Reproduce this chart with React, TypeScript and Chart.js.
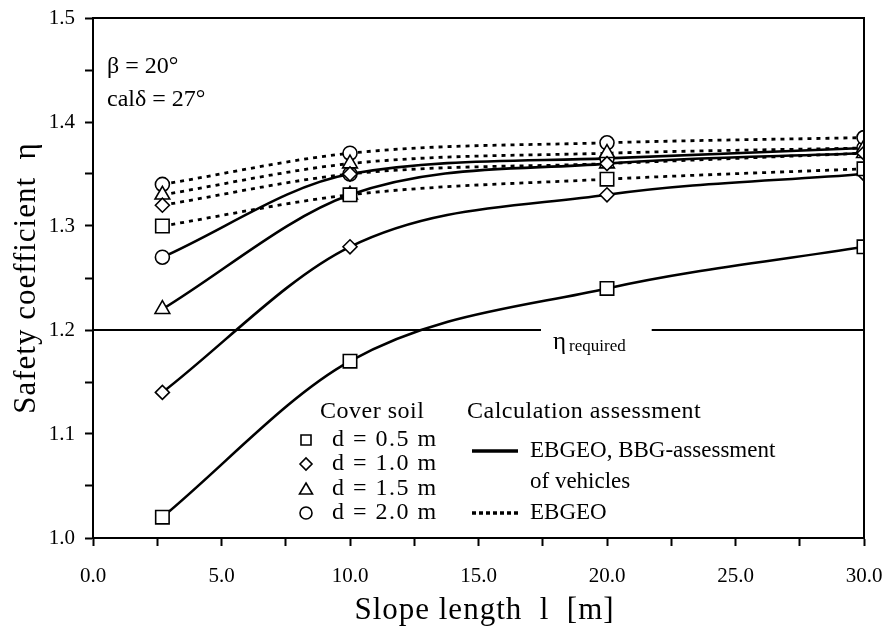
import React, { useEffect, useRef } from "react";
import { Chart, registerables } from "chart.js";

Chart.register(...registerables);

// ---- data ----
const SLOPE_LENGTHS = [2.7, 10, 20, 30];

// EBGEO, BBG-assessment of vehicles (solid)
const BBG_D05 = [1.02, 1.17, 1.24, 1.28];
const BBG_D10 = [1.14, 1.28, 1.33, 1.35];
const BBG_D15 = [1.22, 1.33, 1.36, 1.37];
const BBG_D20 = [1.27, 1.35, 1.365, 1.375];

// EBGEO (dotted)
const EBGEO_D05 = [1.3, 1.33, 1.345, 1.355];
const EBGEO_D10 = [1.32, 1.35, 1.36, 1.37];
const EBGEO_D15 = [1.33, 1.36, 1.37, 1.375];
const EBGEO_D20 = [1.34, 1.37, 1.38, 1.385];

const COVER_LABELS = ["d = 0.5 m", "d = 1.0 m", "d = 1.5 m", "d = 2.0 m"];
const ETA_REQUIRED = 1.2;

const FONT = '"Liberation Serif", "Times New Roman", serif';

const pts = (ys: number[]) => SLOPE_LENGTHS.map((x, i) => ({ x, y: ys[i] }));

const STYLES = [
  { style: "rect", r: 9.5 },
  { style: "rectRot", r: 7 },
  { style: "triangle", r: 8.5 },
  { style: "circle", r: 7 },
];

function makeDs(ys: number[], idx: number, dotted: boolean) {
  const s = STYLES[idx];
  return {
    data: pts(ys),
    borderColor: "#000",
    borderWidth: dotted ? 2.8 : 2.6,
    borderDash: dotted ? [4, 5] : [],
    cubicInterpolationMode: "monotone",
    pointStyle: s.style,
    pointRadius: s.r,
    pointBackgroundColor: "#fff",
    pointBorderColor: "#000",
    pointBorderWidth: 1.6,
    fill: false,
  };
}

function drawSymbol(ctx: CanvasRenderingContext2D, style: string, x: number, y: number) {
  ctx.save();
  ctx.strokeStyle = "#000";
  ctx.lineWidth = 1.6;
  ctx.beginPath();
  if (style === "rect") {
    ctx.rect(x - 5, y - 5, 10, 10);
  } else if (style === "rectRot") {
    ctx.moveTo(x - 6, y);
    ctx.lineTo(x, y - 6);
    ctx.lineTo(x + 6, y);
    ctx.lineTo(x, y + 6);
    ctx.closePath();
  } else if (style === "triangle") {
    ctx.moveTo(x, y - 6);
    ctx.lineTo(x + 6.5, y + 5);
    ctx.lineTo(x - 6.5, y + 5);
    ctx.closePath();
  } else {
    ctx.arc(x, y, 6, 0, Math.PI * 2);
  }
  ctx.stroke();
  ctx.restore();
}

const overlay = {
  id: "overlay",
  beforeDatasetsDraw(chart: any) {
    const { ctx, chartArea, scales } = chart;
    const y = scales.y.getPixelForValue(ETA_REQUIRED);
    ctx.save();
    ctx.font = `25px ${FONT}`;
    const etaX = 553;
    const etaW = ctx.measureText("η").width;
    ctx.font = `17px ${FONT}`;
    const reqW = ctx.measureText("required").width;
    const gapL = etaX - 12;
    const gapR = etaX + etaW + 3 + reqW + 26;
    ctx.strokeStyle = "#000";
    ctx.lineWidth = 2;
    ctx.beginPath();
    ctx.moveTo(chartArea.left, y);
    ctx.lineTo(gapL, y);
    ctx.moveTo(gapR, y);
    ctx.lineTo(chartArea.right, y);
    ctx.stroke();
    ctx.fillStyle = "#000";
    ctx.textBaseline = "alphabetic";
    ctx.font = `25px ${FONT}`;
    ctx.fillText("η", etaX, y + 19);
    ctx.font = `17px ${FONT}`;
    ctx.fillText("required", etaX + etaW + 3, y + 21);
    ctx.restore();
  },
  afterDraw(chart: any) {
    const { ctx, chartArea } = chart;
    ctx.save();
    // frame
    ctx.strokeStyle = "#000";
    ctx.lineWidth = 2;
    ctx.strokeRect(chartArea.left, chartArea.top, chartArea.right - chartArea.left, chartArea.bottom - chartArea.top);

    ctx.fillStyle = "#000";
    ctx.textBaseline = "middle";
    // annotations
    ctx.font = `24px ${FONT}`;
    ctx.textAlign = "left";
    ctx.fillText("β = 20°", 107, 67);
    ctx.fillText("calδ = 27°", 107, 100);

    // axis titles
    ctx.font = `31px ${FONT}`;
    (ctx as any).letterSpacing = "1px";
    ctx.textAlign = "center";
    ctx.fillText("Slope length  l  [m]", (chartArea.left + chartArea.right) / 2 + 6, 611);
    ctx.save();
    ctx.translate(27, (chartArea.top + chartArea.bottom) / 2);
    ctx.rotate(-Math.PI / 2);
    ctx.fillText("Safety coefficient  η", 0, 0);
    ctx.restore();

    // legend
    ctx.font = `24px ${FONT}`;
    (ctx as any).letterSpacing = "0.5px";
    ctx.textAlign = "left";
    ctx.fillText("Cover soil", 320, 412);
    ctx.fillText("Calculation assessment", 467, 412);
    const rows = [440, 464, 489, 513];
    (ctx as any).letterSpacing = "1.5px";
    COVER_LABELS.forEach((lab, i) => {
      drawSymbol(ctx, STYLES[i].style, 306, rows[i]);
      ctx.fillText(lab, 332, rows[i]);
    });
    (ctx as any).letterSpacing = "0px";
    ctx.font = `23px ${FONT}`;
    ctx.lineWidth = 3.5;
    ctx.beginPath();
    ctx.moveTo(472, 451);
    ctx.lineTo(518, 451);
    ctx.stroke();
    ctx.fillText("EBGEO, BBG-assessment", 530, 451);
    ctx.fillText("of vehicles", 530, 482);
    ctx.setLineDash([4, 3]);
    ctx.beginPath();
    ctx.moveTo(472, rows[3]);
    ctx.lineTo(520, rows[3]);
    ctx.stroke();
    ctx.setLineDash([]);
    ctx.fillText("EBGEO", 530, rows[3]);
    ctx.restore();
  },
};

export default function App() {
  const ref = useRef<HTMLCanvasElement>(null);
  useEffect(() => {
    if (!ref.current) return;
    const datasets = [
      makeDs(EBGEO_D05, 0, true),
      makeDs(EBGEO_D10, 1, true),
      makeDs(EBGEO_D15, 2, true),
      makeDs(EBGEO_D20, 3, true),
      makeDs(BBG_D05, 0, false),
      makeDs(BBG_D10, 1, false),
      makeDs(BBG_D15, 2, false),
      makeDs(BBG_D20, 3, false),
    ];
    const chart = new Chart(ref.current, {
      type: "line",
      data: { datasets: datasets as any },
      plugins: [overlay],
      options: {
        animation: false,
        responsive: false,
        events: [],
        layout: { padding: { top: 18, right: 22, left: 0, bottom: 0 } },
        plugins: { legend: { display: false }, tooltip: { enabled: false } },
        scales: {
          x: {
            type: "linear",
            min: 0,
            max: 30,
            afterFit: (s: any) => {
              s.height = 89;
              s.paddingLeft = 0;
              s.paddingRight = 0;
            },
            border: { display: true, color: "#000", width: 2 },
            grid: { drawOnChartArea: false, drawTicks: true, tickLength: 8, tickColor: "#000", tickWidth: 2 },
            ticks: {
              stepSize: 2.5,
              autoSkip: false,
              maxRotation: 0,
              color: "#000",
              padding: 18,
              font: { family: FONT, size: 21 },
              callback: (v: any) => (Math.abs(v / 5 - Math.round(v / 5)) < 1e-6 ? Number(v).toFixed(1) : ""),
            },
          },
          y: {
            type: "linear",
            min: 1.0,
            max: 1.5,
            afterFit: (s: any) => {
              s.width = 93;
              s.paddingTop = 0;
              s.paddingBottom = 0;
            },
            border: { display: true, color: "#000", width: 2 },
            grid: { drawOnChartArea: false, drawTicks: true, tickLength: 8, tickColor: "#000", tickWidth: 2 },
            ticks: {
              stepSize: 0.05,
              autoSkip: false,
              color: "#000",
              padding: 10,
              font: { family: FONT, size: 21 },
              callback: (v: any) => (Math.abs(v * 10 - Math.round(v * 10)) < 1e-6 ? Number(v).toFixed(1) : ""),
            },
          },
        },
      } as any,
    });
    return () => chart.destroy();
  }, []);
  return (
    <div style={{ position: "fixed", left: 0, top: 0, width: 886, height: 627, background: "#fff" }}>
      <canvas ref={ref} width={886} height={627} style={{ width: 886, height: 627, display: "block" }} />
    </div>
  );
}
